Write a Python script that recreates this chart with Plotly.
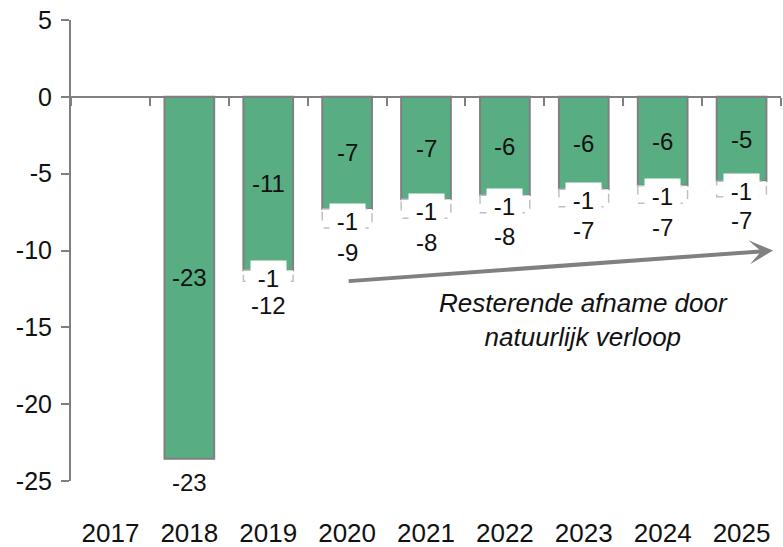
import plotly.graph_objects as go

years = ["2017", "2018", "2019", "2020", "2021", "2022", "2023", "2024", "2025"]
green_values = [0, -23.55, -11.28, -7.3, -6.67, -6.41, -6.02, -5.78, -5.5]
extra_values = [0, 0, -0.72, -1.24, -1.23, -1.14, -1.13, -1.15, -1.0]
green_labels = ["", "-23", "-11", "-7", "-7", "-6", "-6", "-6", "-5"]
extra_labels = ["", "", "-1", "-1", "-1", "-1", "-1", "-1", "-1"]
total_labels = ["", "-23", "-12", "-9", "-8", "-8", "-7", "-7", "-7"]

y_ticks = [5, 0, -5, -10, -15, -20, -25]
y_tick_text = ["5", "0", "-5", "-10", "-15", "-20", "-25"]
arrow_start = (3.0, -12.0)
arrow_end = (8.4, -10.0)
note_pos = (6.0, -14.5)
note_text = "Resterende afname door<br>natuurlijk verloop"

GREEN = "#59ad82"
GRAY = "#808080"
TXT = "#111111"
FONT = "Liberation Sans, Arial, sans-serif"
BAR_W = 0.63

fig = go.Figure()
fig.add_trace(go.Bar(
    x=years, y=green_values, width=BAR_W,
    marker=dict(color=GREEN,
                line=dict(color=GRAY, width=[0 if v == 0 else 2 for v in green_values])),
    hoverinfo="skip", showlegend=False,
))

shapes = []
annotations = []
totals = [g + e for g, e in zip(green_values, extra_values)]
for i, (g, e) in enumerate(zip(green_values, extra_values)):
    if e != 0:
        shapes.append(dict(
            type="rect", xref="x", yref="y",
            x0=i - BAR_W / 2, x1=i + BAR_W / 2, y0=g, y1=g + e,
            line=dict(color="#c0c0c0", width=1.5, dash="dash"),
            fillcolor="white", layer="above",
        ))
for i, y in enumerate(years):
    if green_labels[i]:
        annotations.append(dict(x=i, y=green_values[i] / 2, xref="x", yref="y",
                                text=green_labels[i], showarrow=False,
                                font=dict(size=24, color=TXT, family=FONT)))
    if extra_labels[i]:
        annotations.append(dict(x=i, y=green_values[i] + extra_values[i] / 2,
                                xref="x", yref="y", yshift=-2,
                                text=extra_labels[i], showarrow=False,
                                bgcolor="white", width=33, height=32, borderpad=1,
                                font=dict(size=24, color=TXT, family=FONT)))
    if total_labels[i]:
        annotations.append(dict(x=i, y=totals[i], xref="x", yref="y",
                                yanchor="middle", yshift=-24,
                                text=total_labels[i], showarrow=False,
                                font=dict(size=24, color=TXT, family=FONT)))

annotations.append(dict(
    x=arrow_end[0], y=arrow_end[1], ax=arrow_start[0], ay=arrow_start[1],
    xref="x", yref="y", axref="x", ayref="y", text="",
    showarrow=True, arrowhead=3, arrowsize=1, arrowwidth=4, arrowcolor=GRAY,
))
annotations.append(dict(
    x=note_pos[0], y=note_pos[1], xref="x", yref="y",
    text="<i>" + note_text + "</i>", showarrow=False,
    font=dict(size=26, color=TXT, family=FONT),
))

fig.update_layout(
    width=783, height=547,
    margin=dict(l=71, r=2, t=20, b=66),
    paper_bgcolor="white", plot_bgcolor="white",
    font=dict(family=FONT, size=24, color=TXT),
    shapes=shapes, annotations=annotations,
    xaxis=dict(
        type="category", anchor="free", position=25 / 30,
        tickson="boundaries", ticks="outside", ticklen=8, tickwidth=2,
        tickcolor=GRAY, showline=True, linecolor=GRAY, linewidth=2,
        showgrid=False, zeroline=False, ticklabelstandoff=413,
        tickfont=dict(size=26, color=TXT, family=FONT),
        range=[-0.5, 8.5], automargin=False, ticklabeloverflow="allow",
    ),
    yaxis=dict(
        range=[-25, 5], tickvals=y_ticks, ticktext=y_tick_text,
        ticks="outside", ticklen=8,
        tickwidth=2, tickcolor=GRAY, showline=True, linecolor=GRAY,
        linewidth=2, showgrid=False, zeroline=False, ticklabelstandoff=4,
        tickfont=dict(size=25, color=TXT, family=FONT), automargin=False,
        ticklabeloverflow="allow",
    ),
)

# remove the browser's default 8px body margin so the figure fills the window
fig.write_html("out.html",
               config={"displayModeBar": False},
               post_script="document.body.style.margin='0';document.body.style.overflow='hidden';")
